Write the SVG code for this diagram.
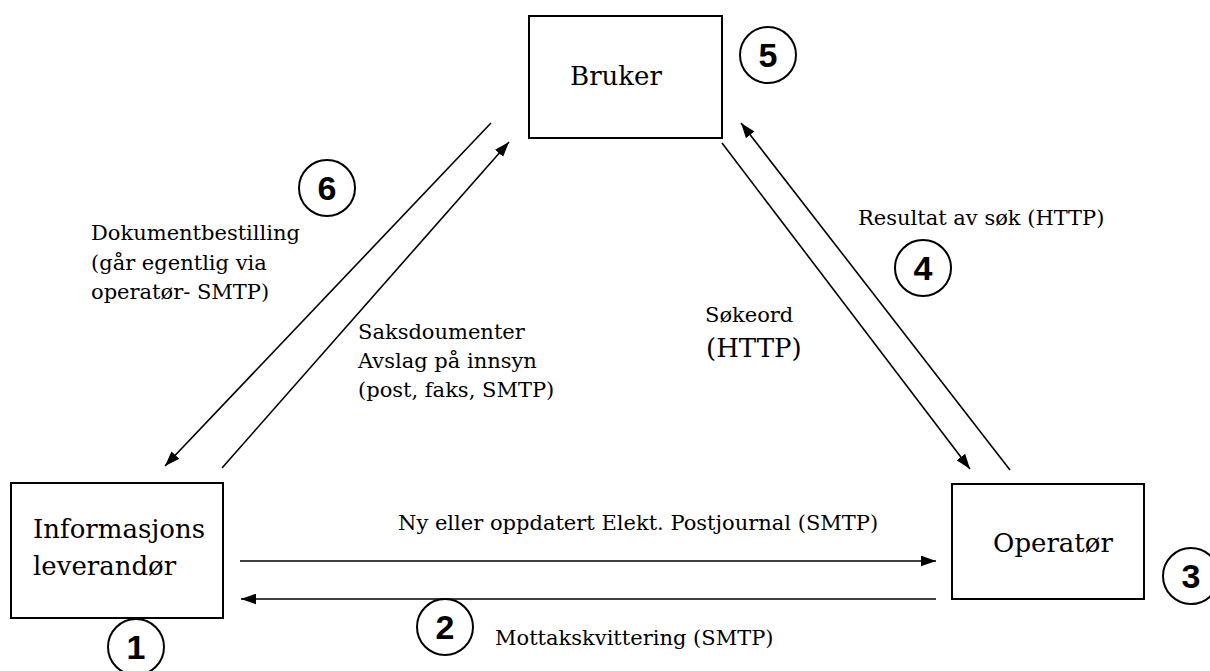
<svg xmlns="http://www.w3.org/2000/svg" width="1210" height="671" viewBox="0 0 1210 671">
<defs>
<marker id="ah" viewBox="0 0 14 10" refX="14" refY="5" markerWidth="15" markerHeight="11" markerUnits="userSpaceOnUse" orient="auto">
<path d="M0,0 L14,5 L0,10 Z" fill="#000"/>
</marker>
<style>
.box{fill:#fff;stroke:#000;stroke-width:2}
.nt{font-family:"DejaVu Serif","Liberation Serif",serif;font-size:26px;fill:#000}
.lb{font-family:"DejaVu Serif","Liberation Serif",serif;font-size:21px;fill:#000}
.num circle{fill:none;stroke:#000;stroke-width:2}
.num text{font-family:"Liberation Sans",Arial,sans-serif;font-weight:bold;font-size:34px;fill:#000;text-anchor:middle}
.cn line{stroke:#000;stroke-width:1.6}
</style>
</defs>
<rect width="1210" height="671" fill="#fff"/>
<g id="bruker">
<rect class="box" x="529" y="16" width="193" height="122"/>
<text class="nt" x="616" y="85" text-anchor="middle">Bruker</text>
</g>
<g id="informasjonsleverandor">
<rect class="box" x="11" y="483" width="212" height="135"/>
<text class="nt" x="33" y="538">Informasjons</text>
<text class="nt" x="33" y="575">leverandør</text>
</g>
<g id="operator">
<rect class="box" x="952" y="484" width="192" height="115"/>
<text class="nt" x="1053" y="552" text-anchor="middle">Operatør</text>
</g>
<g id="connectors" class="cn">
<line x1="491" y1="123" x2="165" y2="466" marker-end="url(#ah)"/>
<line x1="222" y1="468" x2="509" y2="142" marker-end="url(#ah)"/>
<line x1="722" y1="143" x2="970" y2="469" marker-end="url(#ah)"/>
<line x1="1010" y1="470" x2="741" y2="123" marker-end="url(#ah)"/>
<line x1="240" y1="561" x2="936" y2="561" marker-end="url(#ah)"/>
<line x1="936" y1="599" x2="241" y2="599" marker-end="url(#ah)"/>
</g>
<g id="labels">
<text class="lb" x="91" y="240">Dokumentbestilling</text>
<text class="lb" x="91" y="270">(går egentlig via</text>
<text class="lb" x="91" y="299">operatør- SMTP)</text>
<text class="lb" x="358" y="339">Saksdoumenter</text>
<text class="lb" x="358" y="368">Avslag på innsyn</text>
<text class="lb" x="358" y="397">(post, faks, SMTP)</text>
<text class="lb" x="705" y="322">Søkeord</text>
<text class="nt" x="706" y="357">(HTTP)</text>
<text class="lb" x="858" y="225">Resultat av søk (HTTP)</text>
<text class="lb" x="398" y="530">Ny eller oppdatert Elekt. Postjournal (SMTP)</text>
<text class="lb" x="495" y="645">Mottakskvittering (SMTP)</text>
</g>
<g id="n1" class="num"><circle cx="136" cy="647" r="28"/><text x="136" y="659">1</text></g>
<g id="n2" class="num"><circle cx="445" cy="627" r="28"/><text x="445" y="639">2</text></g>
<g id="n3" class="num"><circle cx="1191" cy="576" r="28"/><text x="1191" y="588">3</text></g>
<g id="n4" class="num"><circle cx="923" cy="268" r="28"/><text x="923" y="280">4</text></g>
<g id="n5" class="num"><circle cx="768" cy="55" r="28"/><text x="768" y="67">5</text></g>
<g id="n6" class="num"><circle cx="327" cy="188" r="28"/><text x="327" y="200">6</text></g>
</svg>
